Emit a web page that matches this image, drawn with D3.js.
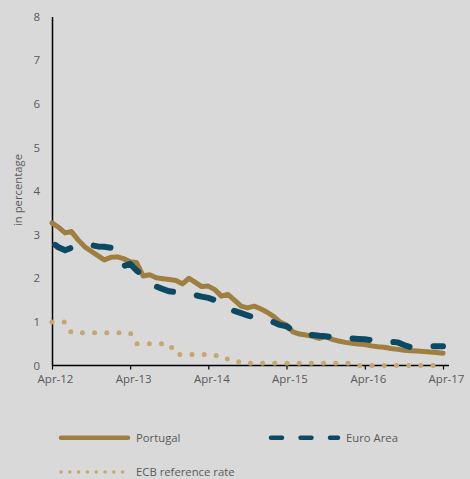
<!DOCTYPE html>
<html>
<head>
<meta charset="utf-8">
<script src="https://cdn.jsdelivr.net/npm/d3@7"></script>
<style>
  html, body { margin: 0; padding: 0; background: #d9d9d9; }
  svg { display: block; }
  text { font-family: "Open Sans", sans-serif; fill: #595959; }
</style>
</head>
<body>
<svg id="chart" width="470" height="479"></svg>
<script>
// Monthly series, April 2012 to April 2017 (61 months), in percent
const startMonth = new Date(2012, 3, 1);
const portugal = [
  3.27, 3.17, 3.04, 3.07, 2.88, 2.72, 2.62, 2.52, 2.42, 2.48, 2.49, 2.45,
  2.38, 2.36, 2.05, 2.08, 2.01, 1.99, 1.97, 1.95, 1.87, 2.00, 1.90, 1.81,
  1.82, 1.74, 1.59, 1.63, 1.50, 1.36, 1.32, 1.36, 1.30, 1.22, 1.12, 1.00,
  0.93, 0.77, 0.72, 0.70, 0.67, 0.62, 0.66, 0.60, 0.56, 0.53, 0.51, 0.49,
  0.48, 0.45, 0.43, 0.42, 0.39, 0.37, 0.35, 0.34, 0.33, 0.32, 0.31, 0.30,
  0.28
];
const euroArea = [
  2.82, 2.71, 2.64, 2.70, 2.74, 2.78, 2.76, 2.73, 2.72, 2.70, 2.48, 2.28,
  2.33, 2.18, 2.05, 1.92, 1.81, 1.75, 1.70, 1.68, 1.66, 1.65, 1.61, 1.58,
  1.55, 1.50, 1.45, 1.33, 1.25, 1.20, 1.15, 1.10, 1.06, 1.04, 0.99, 0.93,
  0.90, 0.80, 0.74, 0.71, 0.70, 0.68, 0.67, 0.65, 0.64, 0.63, 0.62, 0.61,
  0.60, 0.58, 0.56, 0.55, 0.54, 0.53, 0.47, 0.42, 0.42, 0.43, 0.44, 0.44,
  0.44
];
const ecbRate = [
  1.00, 1.00, 1.00, 0.75, 0.75, 0.75, 0.75, 0.75, 0.75, 0.75, 0.75, 0.75,
  0.75, 0.50, 0.50, 0.50, 0.50, 0.50, 0.50, 0.25, 0.25, 0.25, 0.25, 0.25,
  0.25, 0.25, 0.15, 0.15, 0.15, 0.05, 0.05, 0.05, 0.05, 0.05, 0.05, 0.05,
  0.05, 0.05, 0.05, 0.05, 0.05, 0.05, 0.05, 0.05, 0.05, 0.05, 0.05, 0.00,
  0.00, 0.00, 0.00, 0.00, 0.00, 0.00, 0.00, 0.00, 0.00, 0.00, 0.00, 0.00,
  0.00
];
const yTicks = [0, 1, 2, 3, 4, 5, 6, 7, 8];
const xTickLabels = ["Apr-12", "Apr-13", "Apr-14", "Apr-15", "Apr-16", "Apr-17"];
const seriesNames = ["Portugal", "Euro Area", "ECB reference rate"];

const colors = { portugal: "#9f7f3f", euro: "#0c4a64", ecb: "#c5a770" };

const months = portugal.map((_, i) => d3.timeMonth.offset(startMonth, i));
const svg = d3.select("#chart");

const x = d3.scaleTime()
  .domain([startMonth, d3.timeMonth.offset(startMonth, 60)])
  .range([52, 443]);
const y = d3.scaleLinear().domain([0, 8]).range([365.5, 16.5]);

// y axis: line and labels only
const yAxis = svg.append("g").attr("transform", "translate(52,0)")
  .call(d3.axisLeft(y).tickValues(yTicks).tickSize(0).tickPadding(12).tickFormat(d3.format("d")));
yAxis.select(".domain").attr("stroke", "#000").attr("stroke-width", 1.5);
yAxis.selectAll("text").attr("font-size", 11.5).attr("fill", "#595959")
  .style("font-family", "'Open Sans', sans-serif");

svg.append("text")
  .attr("transform", "translate(22,190) rotate(-90)")
  .attr("text-anchor", "middle")
  .attr("font-size", 11.3)
  .text("in percentage");

// x axis with yearly ticks
const yearTicks = xTickLabels.map((_, i) => d3.timeMonth.offset(startMonth, 12 * i));
const xAxis = svg.append("g").attr("transform", `translate(0,${y(0)})`)
  .call(d3.axisBottom(x).tickValues(yearTicks).tickSizeInner(4).tickSizeOuter(0).tickPadding(5)
    .tickFormat((d, i) => xTickLabels[i]));
xAxis.select(".domain").attr("stroke", "#000").attr("stroke-width", 1.5)
  .attr("d", `M52,0H449`);
xAxis.selectAll(".tick line").attr("stroke", "#000").attr("stroke-width", 1.2);
xAxis.selectAll("text").attr("font-size", 11.5).attr("fill", "#595959").attr("dx", 3)
  .style("font-family", "'Open Sans', sans-serif");

const line = d3.line().x((d, i) => x(months[i])).y(d => y(d));

svg.append("path").datum(ecbRate)
  .attr("d", line).attr("fill", "none")
  .attr("stroke", colors.ecb).attr("stroke-width", 5)
  .attr("stroke-linecap", "round").attr("stroke-dasharray", "0,12.2");

svg.append("path").datum(portugal)
  .attr("d", line).attr("fill", "none")
  .attr("stroke", colors.portugal).attr("stroke-width", 5)
  .attr("stroke-linejoin", "round").attr("stroke-linecap", "round");

svg.append("path").datum(euroArea)
  .attr("d", line).attr("fill", "none")
  .attr("stroke", colors.euro).attr("stroke-width", 6)
  .attr("stroke-linejoin", "round").attr("stroke-linecap", "round")
  .attr("stroke-dasharray", "17,24")
  .attr("stroke-dashoffset", 37);

// legend
const legend = svg.append("g");
const legendItems = [
  { name: seriesNames[0], x: 61, y: 437.7, color: colors.portugal, width: 4.5, dash: null, len: 67 },
  { name: seriesNames[1], x: 271, y: 437.7, color: colors.euro, width: 4.5, dash: "11,18.5", len: 67 },
  { name: seriesNames[2], x: 61, y: 472, color: colors.ecb, width: 3.5, dash: "0,8.8", len: 62 }
];
legendItems.forEach(it => {
  legend.append("line")
    .attr("x1", it.x).attr("x2", it.x + it.len)
    .attr("y1", it.y).attr("y2", it.y)
    .attr("stroke", it.color).attr("stroke-width", it.width)
    .attr("stroke-linecap", "round")
    .attr("stroke-dasharray", it.dash);
  legend.append("text")
    .attr("x", it.x + 75).attr("y", it.y).attr("dy", "0.35em")
    .attr("font-size", 11.3)
    .text(it.name);
});
</script>
</body>
</html>
